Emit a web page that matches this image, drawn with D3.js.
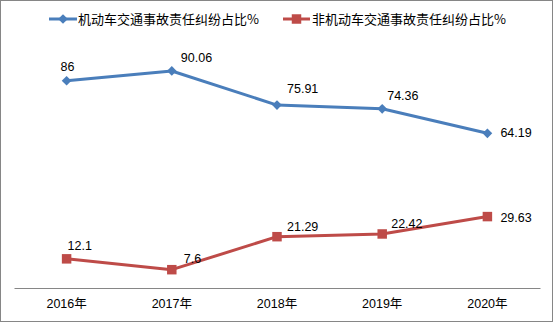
<!DOCTYPE html>
<html><head><meta charset="utf-8">
<script src="https://cdn.jsdelivr.net/npm/d3@7"></script>
<style>body{margin:0;background:#fff;}svg{display:block;}</style>
</head><body>
<svg id="c" width="554" height="323"></svg>
<script>
const categories = ["2016年","2017年","2018年","2019年","2020年"];
const motorValues = [86, 90.06, 75.91, 74.36, 64.19];
const nonMotorValues = [12.1, 7.6, 21.29, 22.42, 29.63];
const seriesNames = ["机动车交通事故责任纠纷占比%", "非机动车交通事故责任纠纷占比%"];
// label offsets (dx to left edge, dy to baseline) relative to the point
const motorLabelOffsets = [[-6,-10],[9,-9],[10,-12],[5,-9],[13,4]];
const nonMotorLabelOffsets = [[1,-9],[12,-7],[10,-6],[9,-6],[13,5]];

const svg = d3.select("#c");
svg.append("rect").attr("x",0.5).attr("y",0.5).attr("width",552).attr("height",321)
  .attr("fill","#fff").attr("stroke","#868686").attr("stroke-width",1);

const x = d3.scaleBand().domain(categories).range([14,540]);
const y = d3.scaleLinear().domain([0,100]).range([288,47]);
const cx = c => x(c) + x.bandwidth()/2;

// axis
const ax = svg.append("g").attr("transform","translate(0,288)")
  .call(d3.axisBottom(x).tickSize(0).tickPadding(11));
ax.select(".domain").attr("stroke","#868686").attr("stroke-width",1);
ax.selectAll("text").attr("font-family","'Liberation Sans','Noto Sans CJK SC',sans-serif")
  .attr("font-size",12.5).attr("fill","#000");

const series = [
  {values: motorValues, color:"#4A7EBB", marker:"diamond", offs: motorLabelOffsets},
  {values: nonMotorValues, color:"#BE4B48", marker:"square", offs: nonMotorLabelOffsets}
];
const line = d3.line().x((d,i)=>cx(categories[i])).y(d=>y(d));
const diamond = d3.symbol().type(d3.symbolDiamond2).size(60);
const square = d3.symbol().type(d3.symbolSquare).size(90);

series.forEach(s=>{
  svg.append("path").datum(s.values).attr("d",line).attr("fill","none")
    .attr("stroke",s.color).attr("stroke-width",3).attr("stroke-linejoin","round");
  svg.selectAll(null).data(s.values).enter().append("path")
    .attr("transform",(d,i)=>`translate(${cx(categories[i])},${y(d)})`)
    .attr("d", s.marker==="diamond" ? diamond : square)
    .attr("fill",s.color);
  svg.selectAll(null).data(s.values).enter().append("text")
    .attr("x",(d,i)=>cx(categories[i])+s.offs[i][0])
    .attr("y",(d,i)=>y(d)+s.offs[i][1])
    .attr("font-family","'Liberation Sans',Arial,sans-serif").attr("font-size",12.5)
    .attr("fill","#000").text(d=>d);
});

// legend
const leg = [{x0:49, x1:77, tx:78}, {x0:283, x1:310, tx:312}];
series.forEach((s,i)=>{
  const g = svg.append("g");
  const L = leg[i];
  g.append("line").attr("x1",L.x0).attr("x2",L.x1).attr("y1",19).attr("y2",19)
    .attr("stroke",s.color).attr("stroke-width",3);
  g.append("path").attr("transform",`translate(${(L.x0+L.x1)/2},19)`)
    .attr("d", s.marker==="diamond" ? diamond : square).attr("fill",s.color);
  g.append("text").attr("x",L.tx).attr("y",24).attr("font-family","'Noto Sans CJK SC',sans-serif")
    .attr("font-size",13).attr("fill","#000").text(seriesNames[i]);
});
</script>
</body></html>
